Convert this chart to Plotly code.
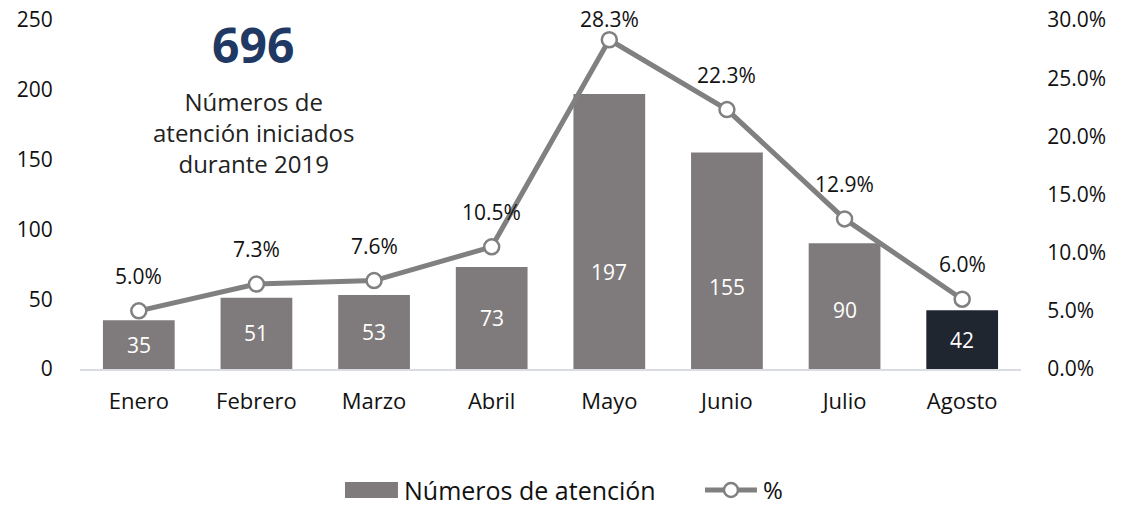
import plotly.graph_objects as go

meses = ["Enero", "Febrero", "Marzo", "Abril", "Mayo", "Junio", "Julio", "Agosto"]
numeros = [35, 51, 53, 73, 197, 155, 90, 42]
porcentaje = [5.0, 7.3, 7.6, 10.5, 28.3, 22.3, 12.9, 6.0]
total = 696

FONT = "Open Sans"
GREY = "#7f7b7c"
LINE = "#808080"
bar_colors = [GREY] * (len(meses) - 1) + ["#1f2630"]
PLOT_H = 349  # plot area height in px
Y2_MAX = 30

fig = go.Figure()
fig.add_trace(go.Bar(
    x=meses, y=numeros, name="Números de atención",
    marker=dict(color=bar_colors, line=dict(width=0)),
    width=0.61, yaxis="y", showlegend=False,
))
fig.add_trace(go.Scatter(
    x=meses, y=porcentaje, name="%", yaxis="y2",
    mode="lines+markers",
    line=dict(color=LINE, width=5),
    marker=dict(size=15, color="white", line=dict(color=LINE, width=2.5)),
    cliponaxis=False, showlegend=False,
))

for m, v in zip(meses, numeros):
    fig.add_annotation(x=m, y=min(v / 2, 20 + 0.25 * v), yref="y", text=str(v),
                       showarrow=False, font=dict(family=FONT, size=21, color="white"))
for m, p in zip(meses, porcentaje):
    shift = min(35, (Y2_MAX - p) / Y2_MAX * PLOT_H + 1)
    fig.add_annotation(x=m, y=p, yref="y2", text=f"{p:.1f}%", yshift=shift,
                       showarrow=False, font=dict(family=FONT, size=21, color="#111111"))

fig.add_annotation(x=0.184, y=1.03, xref="paper", yref="paper", xanchor="center",
                   yanchor="top", text=f"<b>{total}</b>", showarrow=False,
                   font=dict(family=FONT, size=48, color="#1f3864"))
fig.add_annotation(x=0.184, y=0.82, xref="paper", yref="paper", xanchor="center",
                   yanchor="top",
                   text="Números de<br>atención iniciados<br>durante 2019", showarrow=False,
                   align="center",
                   font=dict(family=FONT, size=24, color="#222222"))

# manual legend
fig.add_shape(type="rect", xref="paper", yref="paper", x0=0.2816, x1=0.3379,
              y0=-0.3696, y1=-0.3238, fillcolor=GREY, line=dict(width=0))
fig.add_annotation(x=0.3422, y=-0.3467, xref="paper", yref="paper", xanchor="left",
                   yanchor="middle", text="Números de atención", showarrow=False,
                   font=dict(family=FONT, size=25, color="#111111"))
fig.add_shape(type="line", xref="paper", yref="paper", x0=0.6642, x1=0.7194,
              y0=-0.3467, y1=-0.3467, line=dict(color=LINE, width=5))
fig.add_shape(type="circle", xref="paper", yref="paper", xsizemode="pixel",
              ysizemode="pixel", xanchor=0.6918, yanchor=-0.3467,
              x0=-7, x1=7, y0=-7, y1=7, fillcolor="white",
              line=dict(color=LINE, width=2.5))
fig.add_annotation(x=0.7237, y=-0.3467, xref="paper", yref="paper", xanchor="left",
                   yanchor="middle", text="%", showarrow=False,
                   font=dict(family=FONT, size=24, color="#111111"))

fig.update_layout(
    width=1125, height=506,
    margin=dict(l=80, r=104, t=20, b=137, autoexpand=False),
    paper_bgcolor="white", plot_bgcolor="white",
    font=dict(family=FONT, color="#111111"),
    showlegend=False,
    xaxis=dict(showgrid=False, showline=True, linecolor="#d9dde3", linewidth=1.5,
               tickfont=dict(size=22, color="#111111"), ticks="outside",
               ticklen=12, tickcolor="rgba(0,0,0,0)"),
    yaxis=dict(range=[0, 250], dtick=50, showgrid=False, zeroline=False,
               tickfont=dict(size=21, color="#111111"), ticks="outside",
               ticklen=22, tickcolor="rgba(0,0,0,0)"),
    yaxis2=dict(range=[0, Y2_MAX], dtick=5, overlaying="y", side="right", showgrid=False,
                zeroline=False, ticksuffix="%", tickformat=".1f",
                tickfont=dict(size=21, color="#111111"), ticks="outside",
                ticklen=21, tickcolor="rgba(0,0,0,0)"),
)

fig.write_html("out.html", config={"displayModeBar": False},
               post_script="document.body.style.margin='0';")
